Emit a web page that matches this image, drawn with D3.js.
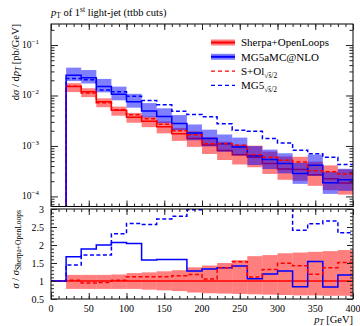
<!DOCTYPE html>
<html><head><meta charset="utf-8">
<script src="https://cdn.jsdelivr.net/npm/d3@7"></script>
<style>
body{margin:0;background:#fff;}
svg{display:block;font-family:"Liberation Serif",serif;}
</style></head><body>
<svg width="360" height="326"></svg>
<script>
// bin edges in GeV (first bin 0-20 is empty)
const edges = d3.range(0, 401, 20);

// d sigma / d pT in pb/GeV, one value per bin
const sherpa    = [0, 0.0150, 0.0119, 0.0075, 0.0051, 0.0037, 0.0031, 0.0024, 0.00175, 0.00141, 0.00105, 0.00081, 0.00067, 0.00060, 0.00045, 0.00035, 0.00034, 0.00027, 0.000225, 0.000184];
const mg5       = [0, 0.0251, 0.0225, 0.0150, 0.01056, 0.00755, 0.00491, 0.00384, 0.0028, 0.0018, 0.0014, 0.00111, 0.00095, 0.000636, 0.000536, 0.000448, 0.000286, 0.000416, 0.000187, 0.000215];
const sherpaHalf= [0, 0.0153, 0.0112, 0.0072, 0.0052, 0.00414, 0.00347, 0.00269, 0.0020, 0.00166, 0.00111, 0.00111, 0.00103, 0.000666, 0.000594, 0.000522, 0.000483, 0.000321, 0.000308, 0.000278];
const mg5Half   = [0, 0.0217, 0.0205, 0.0129, 0.0118, 0.00962, 0.00797, 0.00653, 0.0049, 0.0042, 0.00377, 0.00275, 0.00205, 0.00195, 0.0014, 0.00115, 0.00082, 0.0007, 0.0006, 0.00043];

// relative uncertainty bands (up / down factors)
const sherpaUp = [1, 1.17, 1.17, 1.17, 1.18, 1.22, 1.24, 1.27, 1.30, 1.38, 1.43, 1.50, 1.58, 1.69, 1.72, 1.77, 1.79, 1.81, 1.83, 1.86];
const sherpaDn = [1, 0.78, 0.78, 0.78, 0.78, 0.78, 0.76, 0.74, 0.72, 0.68, 0.66, 0.65, 0.64, 0.63, 0.62, 0.61, 0.60, 0.60, 0.59, 0.59];
const mg5Up    = [1, 1.42, 1.42, 1.42, 1.42, 1.43, 1.44, 1.45, 1.46, 1.48, 1.50, 1.52, 1.54, 1.56, 1.58, 1.60, 1.62, 1.62, 1.64, 1.64];
const mg5Dn    = [1, 0.77, 0.77, 0.77, 0.76, 0.76, 0.75, 0.74, 0.73, 0.72, 0.70, 0.69, 0.68, 0.66, 0.65, 0.64, 0.62, 0.61, 0.60, 0.60];

const xTicks = [0, 50, 100, 150, 200, 250, 300, 350, 400];
const ratioTicks = [0.5, 1, 1.5, 2, 2.5, 3];
const logTicks = [-1, -2, -3, -4];

const RED = "#ff0000", BLUE = "#0000ff";
const left = 51, right = 353,
      mainTop = 24, mainBot = 206.5,
      ratTop = 209, ratBot = 299;

const svg = d3.select("svg");

const x = d3.scaleLinear().domain([0, 400]).range([left, right]);
const y = d3.scaleLog().domain([Math.pow(10, -4.2), Math.pow(10, -0.583)]).range([mainBot, mainTop]);
const yr = d3.scaleLinear().domain([0.5, 3]).range([ratBot, ratTop]);

const defs = svg.append("defs");
defs.append("clipPath").attr("id", "clipMain").append("rect")
    .attr("x", left).attr("y", mainTop).attr("width", right - left).attr("height", mainBot - mainTop);
defs.append("clipPath").attr("id", "clipRat").append("rect")
    .attr("x", left).attr("y", ratTop).attr("width", right - left).attr("height", ratBot - ratTop);

const ym = v => v > 0 ? y(v) : mainBot + 20;

function stepPath(vals, ys) {
    const pts = [];
    vals.forEach((v, i) => {
        pts.push([x(edges[i]), ys(v)]);
        pts.push([x(edges[i + 1]), ys(v)]);
    });
    return d3.line()(pts);
}

function band(g, vals, up, dn, ys, color) {
    g.append("g").selectAll("rect")
        .data(vals.map((v, i) => ({ v, i })).filter(d => d.v > 0))
        .enter().append("rect")
        .attr("x", d => x(edges[d.i]))
        .attr("width", d => x(edges[d.i + 1]) - x(edges[d.i]))
        .attr("y", d => ys(d.v * up[d.i]))
        .attr("height", d => ys(d.v * dn[d.i]) - ys(d.v * up[d.i]))
        .attr("fill", color).attr("fill-opacity", 0.5);
}

function line(g, vals, ys, color, dashed) {
    g.append("path").attr("d", stepPath(vals, ys))
        .attr("fill", "none").attr("stroke", color).attr("stroke-width", 1.5)
        .attr("stroke-dasharray", dashed ? "4,2.5" : null);
}

// main panel
const gm = svg.append("g").attr("clip-path", "url(#clipMain)");
band(gm, sherpa, sherpaUp, sherpaDn, ym, RED);
line(gm, sherpa, ym, RED, false);
band(gm, mg5, mg5Up, mg5Dn, ym, BLUE);
line(gm, mg5, ym, BLUE, false);
line(gm, sherpaHalf, ym, RED, true);
line(gm, mg5Half, ym, BLUE, true);

// ratio panel
const ratio = s => s.map((v, i) => sherpa[i] > 0 ? v / sherpa[i] : 1);
const ones = sherpa.map(() => 1);
const gr = svg.append("g").attr("clip-path", "url(#clipRat)");
band(gr, sherpa.map(v => v > 0 ? 1 : 0), sherpaUp, sherpaDn, yr, RED);
line(gr, ones, yr, RED, false);
line(gr, ratio(mg5), yr, BLUE, false);
line(gr, ratio(sherpaHalf), yr, RED, true);
line(gr, ratio(mg5Half), yr, BLUE, true);

// frames
[[mainTop, mainBot], [ratTop, ratBot]].forEach(([t, b]) => {
    svg.append("rect").attr("x", left).attr("y", t).attr("width", right - left).attr("height", b - t)
        .attr("fill", "none").attr("stroke", "#000").attr("stroke-width", 1);
});

// ticks (all pointing inwards)
function ticks(axis, pos, vals, size) {
    svg.append("g").attr("transform", pos)
        .call(axis.tickValues(vals).tickSize(-size).tickFormat(""))
        .call(g => g.select(".domain").remove())
        .call(g => g.selectAll("line").attr("stroke", "#222"));
}
const xMinor = d3.range(0, 401, 10);
[[mainTop, mainBot], [ratTop, ratBot]].forEach(([t, b]) => {
    ticks(d3.axisTop(x), `translate(0,${t})`, xMinor, 3);
    ticks(d3.axisTop(x), `translate(0,${t})`, xTicks, 6);
    ticks(d3.axisBottom(x), `translate(0,${b})`, xMinor, 3);
    ticks(d3.axisBottom(x), `translate(0,${b})`, xTicks, 6);
});
const logMinor = [];
[-5, -4, -3, -2, -1].forEach(e => d3.range(2, 10).forEach(m => {
    const v = m * Math.pow(10, e);
    if (v >= y.domain()[0] && v <= y.domain()[1]) logMinor.push(v);
}));
const logMajor = logTicks.map(e => Math.pow(10, e));
ticks(d3.axisLeft(y), `translate(${left},0)`, logMinor, 3.5);
ticks(d3.axisLeft(y), `translate(${left},0)`, logMajor, 7);
ticks(d3.axisRight(y), `translate(${right},0)`, logMinor, 3.5);
ticks(d3.axisRight(y), `translate(${right},0)`, logMajor, 7);
const rMinor = d3.range(5, 31).map(v => v / 10);
ticks(d3.axisLeft(yr), `translate(${left},0)`, rMinor, 3);
ticks(d3.axisLeft(yr), `translate(${left},0)`, ratioTicks, 6);
ticks(d3.axisRight(yr), `translate(${right},0)`, rMinor, 3);
ticks(d3.axisRight(yr), `translate(${right},0)`, ratioTicks, 6);

// tick labels
svg.append("g").selectAll("text").data(xTicks).enter().append("text")
    .attr("x", d => x(d)).attr("y", 312).attr("text-anchor", "middle")
    .attr("font-size", 10).text(d => d);
svg.append("g").selectAll("text").data(ratioTicks).enter().append("text")
    .attr("x", 44).attr("y", d => yr(d) + 3.5).attr("text-anchor", "end")
    .attr("font-size", 10).text(d => d);
const lt = svg.append("g").selectAll("text").data(logTicks).enter().append("text")
    .attr("x", 39).attr("y", d => y(Math.pow(10, d)) + 3).attr("text-anchor", "end")
    .attr("font-size", 9.5);
lt.append("tspan").text("10");
lt.append("tspan").attr("dy", -4).attr("font-size", 7).text(d => "\u2212" + (-d));

// axis titles
const title = svg.append("text").attr("x", left).attr("y", 16).attr("font-size", 10.5);
title.append("tspan").attr("font-style", "italic").text("p");
title.append("tspan").attr("font-size", 7.5).attr("dy", 2).text("T");
title.append("tspan").attr("dy", -2).text(" of 1");
title.append("tspan").attr("font-size", 7.5).attr("dy", -4).text("st");
title.append("tspan").attr("dy", 4).text(" light-jet (ttbb cuts)");

const xl = svg.append("text").attr("x", right).attr("y", 322.5).attr("text-anchor", "end").attr("font-size", 10.5);
xl.append("tspan").attr("font-style", "italic").text("p");
xl.append("tspan").attr("font-style", "italic").attr("font-size", 7.5).attr("dy", 2).text("T");
xl.append("tspan").attr("dy", -2).text(" [GeV]");

const yl = svg.append("text").attr("transform", `translate(19,${mainTop}) rotate(-90)`)
    .attr("text-anchor", "end").attr("font-size", 10.5);
yl.append("tspan").text("d");
yl.append("tspan").attr("font-style", "italic").text("σ");
yl.append("tspan").text(" / d");
yl.append("tspan").attr("font-style", "italic").text("p");
yl.append("tspan").attr("font-style", "italic").attr("font-size", 7.5).attr("dy", 2).text("T");
yl.append("tspan").attr("dy", -2).text(" [pb/GeV]");

const ryl = svg.append("text").attr("transform", `translate(19,${ratTop + 1}) rotate(-90)`)
    .attr("text-anchor", "end").attr("font-size", 10.5);
ryl.append("tspan").attr("font-style", "italic").text("σ");
ryl.append("tspan").text(" / ");
ryl.append("tspan").attr("font-style", "italic").text("σ");
ryl.append("tspan").attr("font-size", 7.5).attr("dy", 2).text("Sherpa+OpenLoops");

// legend
const legend = [
    { label: "Sherpa+OpenLoops", color: RED, dashed: false },
    { label: "MG5aMC@NLO", color: BLUE, dashed: false },
    { label: "S+Ol", sub: "√ŝ/2", color: RED, dashed: true },
    { label: "MG5", sub: "√ŝ/2", color: BLUE, dashed: true }
];
const lg = svg.append("g").selectAll("g").data(legend).enter().append("g")
    .attr("transform", (d, i) => `translate(0,${42.5 + i * 14.3})`);
lg.filter(d => !d.dashed).append("rect")
    .attr("x", 211).attr("y", -3).attr("width", 24).attr("height", 6)
    .attr("fill", d => d.color).attr("fill-opacity", 0.5);
lg.append("line").attr("x1", 211).attr("x2", 235)
    .attr("stroke", d => d.color).attr("stroke-width", d => d.dashed ? 1.2 : 2)
    .attr("stroke-dasharray", d => d.dashed ? "4,3" : null);
const lgt = lg.append("text").attr("x", 241).attr("y", 3.8).attr("font-size", 11);
lgt.append("tspan").text(d => d.label);
lgt.filter(d => d.sub).append("tspan").attr("font-size", 7.5).attr("dy", 3).text(d => d.sub);
</script>
</body></html>
